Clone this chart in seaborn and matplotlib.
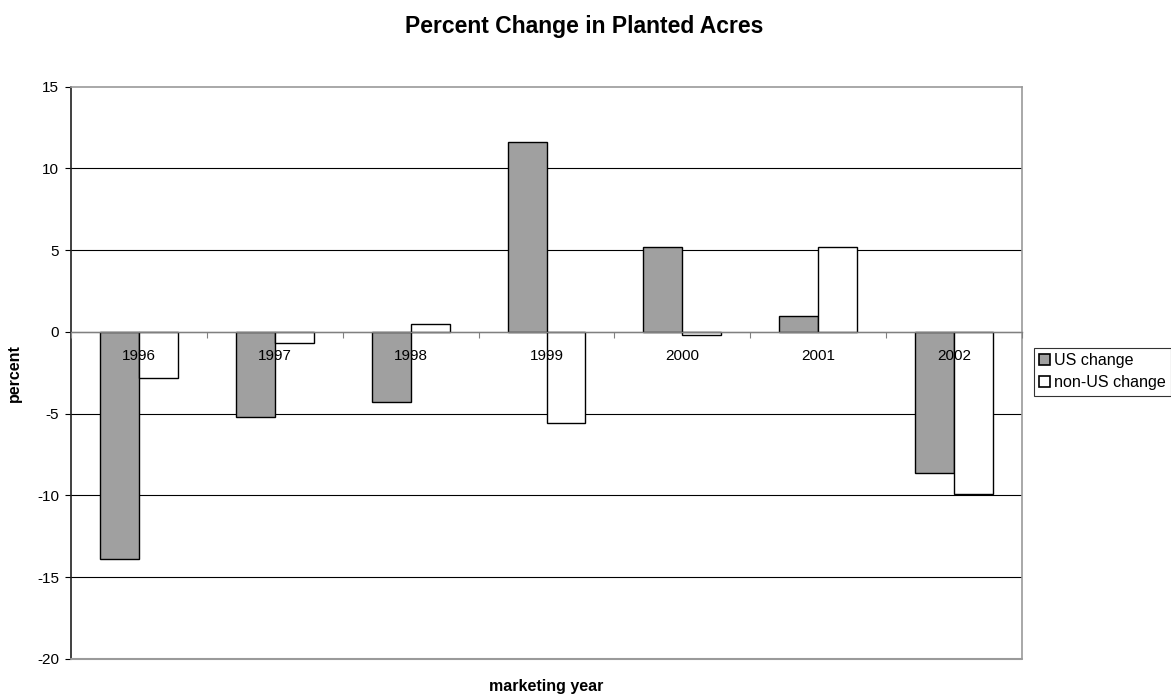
import numpy as np
import pandas as pd
import matplotlib
matplotlib.use("Agg")
import matplotlib.pyplot as plt
import seaborn as sns

# Marketing years and percent change in planted acres
years = ["1996", "1997", "1998", "1999", "2000", "2001", "2002"]
us_change = [-13.9, -5.2, -4.3, 11.6, 5.2, 1.0, -8.6]
non_us_change = [-2.8, -0.7, 0.5, -5.6, -0.2, 5.2, -9.9]
series_names = ["US change", "non-US change"]
y_ticks = [-20, -15, -10, -5, 0, 5, 10, 15]

df = pd.DataFrame({
    "year": years * 2,
    "change": us_change + non_us_change,
    "series": [series_names[0]] * len(years) + [series_names[1]] * len(years),
})

sns.set_theme(style="white")
plt.rcParams["font.family"] = ["Liberation Sans", "DejaVu Sans"]
plt.rcParams["text.color"] = "black"
plt.rcParams["axes.labelcolor"] = "black"
plt.rcParams["xtick.color"] = "black"
plt.rcParams["ytick.color"] = "black"

fig = plt.figure(figsize=(11.71, 6.95), dpi=100)
ax = fig.add_axes([71 / 1171, 36 / 695, 951 / 1171, 572.5 / 695])

sns.barplot(
    data=df, x="year", y="change", hue="series", order=years,
    hue_order=series_names, palette=["#a0a0a0", "#ffffff"],
    width=0.574, edgecolor="black", linewidth=1.0, saturation=1,
    ax=ax, zorder=2,
)
handles, labels = ax.get_legend_handles_labels()
ax.get_legend().remove()

ax.set_ylim(-20, 15)
ax.set_xlim(-0.5, len(years) - 0.5)
ax.set_yticks(y_ticks)
ax.set_yticklabels([str(t) for t in y_ticks])

# Horizontal gridlines at interior ticks
ax.yaxis.grid(True, color="black", linewidth=0.8)
ax.set_axisbelow(True)
gls = ax.get_ygridlines()
gls[0].set_visible(False)
gls[-1].set_visible(False)

# Category axis crosses at zero, with tick marks between categories
ax.spines["bottom"].set_position(("data", 0))
ax.spines["bottom"].set_color("#808080")
ax.spines["bottom"].set_linewidth(1.0)
ax.set_xticks(np.arange(len(years) + 1) - 0.5)
ax.set_xticklabels([""] * (len(years) + 1))
ax.set_xticks(np.arange(len(years)), labels=years, minor=True)
ax.tick_params(axis="x", which="major", direction="out", length=4,
               width=0.8, color="#808080", bottom=True)
ax.tick_params(axis="x", which="minor", length=0, pad=12, labelsize=11,
               labelcolor="black", bottom=True)
# Year labels sit on top of the bars
ax.xaxis.set_zorder(6)

ax.tick_params(axis="y", direction="out", length=4.5, width=0.8,
               color="black", pad=4, labelsize=11, left=True,
               labelcolor="black")

for side in ("top", "right"):
    ax.spines[side].set_color("#9a9a9a")
    ax.spines[side].set_linewidth(1.2)
ax.spines["left"].set_color("#202020")
ax.spines["left"].set_linewidth(1.2)
# Lower frame edge of the plot area
ax.axhline(-20, color="#9a9a9a", linewidth=1.5, clip_on=False, zorder=3)

ax.set_xlabel("")
ax.set_ylabel("")

fig.text(0.499, 1 - 27 / 695, "Percent Change in Planted Acres",
         ha="center", va="center", fontsize=16.5, fontweight="bold",
         color="black")
fig.text(546.5 / 1171, 1 - 687 / 695, "marketing year",
         ha="center", va="center", fontsize=11.5, fontweight="bold",
         color="black")
fig.text(14 / 1171, 1 - 373 / 695, "percent", rotation=90,
         ha="center", va="center", fontsize=11.5, fontweight="bold",
         color="black")

leg = fig.legend(
    handles, labels, loc="upper left",
    bbox_to_anchor=(1034 / 1171, 1 - 348 / 695), borderaxespad=0,
    fontsize=11.6, frameon=True, fancybox=False, handlelength=0.7,
    handleheight=0.7, handletextpad=0.25, labelspacing=0.45,
    borderpad=0.32,
)
leg.get_frame().set_edgecolor("black")
leg.get_frame().set_linewidth(0.8)
for h in leg.legend_handles:
    h.set_edgecolor("black")
    h.set_linewidth(1.2)

fig.savefig("out.png", dpi=100, facecolor="white")
